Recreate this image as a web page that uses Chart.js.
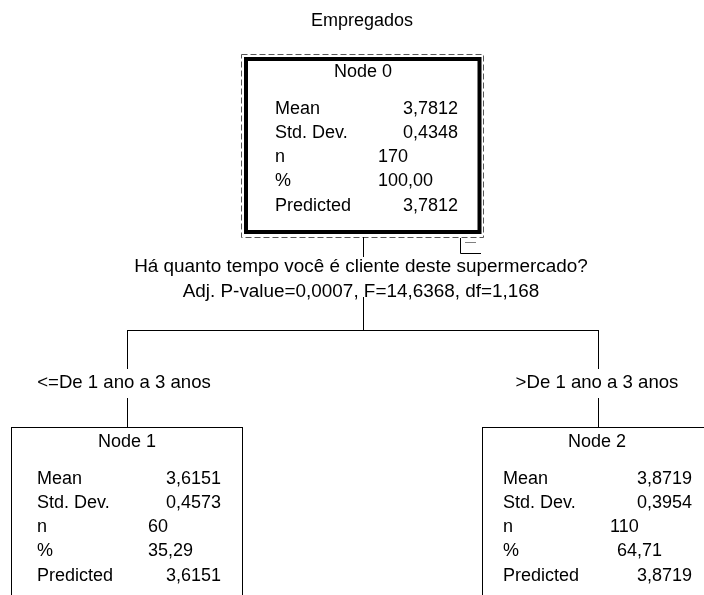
<!DOCTYPE html>
<html>
<head>
<meta charset="utf-8">
<style>
  html, body { margin: 0; padding: 0; background: #ffffff; }
  #wrap { width: 704px; height: 595px; }
  canvas { display: block; }
</style>
<script src="https://cdn.jsdelivr.net/npm/chart.js@4.4.1/dist/chart.umd.min.js"></script>
</head>
<body>
<div id="wrap"><canvas id="c" width="704" height="595"></canvas></div>
<script>
// ---------------- data ----------------
const chartTitle = "Empregados";
const nodeNames = ["Node 0", "Node 1", "Node 2"];
const rowLabels = ["Mean", "Std. Dev.", "n", "%", "Predicted"];
const means = [3.7812, 3.6151, 3.8719];
const stdDevs = [0.4348, 0.4573, 0.3954];
const counts = [170, 60, 110];
const percents = [100.00, 35.29, 64.71];
const predicted = [3.7812, 3.6151, 3.8719];
const splitQuestion = "Há quanto tempo você é cliente deste supermercado?";
const splitPValue = 0.0007;
const splitF = 14.6368;
const splitDf = [1, 168];
const branchLabels = ["<=De 1 ano a 3 anos", ">De 1 ano a 3 anos"];

// ---------------- layout (positions / styles) ----------------
const FAMILY = '"Liberation Sans", Arial, sans-serif';
const FONT = '18px ' + FAMILY;
const FONT_Q = '18.9px ' + FAMILY;
const FONT_B = '18.6px ' + FAMILY;
const layout = {
  title: { x: 362, y: 21 },
  nodes: [
    { box: [246, 59, 479.5, 232], lw: 4, cx: 363, top: 57,
      labelX: 275, valRight: 458, nLeft: 378, pLeft: 378 },
    { box: [11.5, 427.5, 242.5, 640], lw: 1, cx: 127, top: 427,
      labelX: 37, valRight: 221, nLeft: 148, pLeft: 148 },
    { box: [482.5, 427.5, 730, 640], lw: 1, cx: 597, top: 427,
      labelX: 503, valRight: 692, nLeft: 610, pLeft: 617 }
  ],
  rowOffsets: [15, 52, 76, 100.5, 124.5, 149.5],
  dashed: [241.5, 54.5, 483.5, 237.5],
  question: { x: 361, y1: 267, y2: 292 },
  trunkX: 363.5,
  trunk: [[237, 257], [297, 330]],
  hbarY: 330.5,
  branchX: [127.5, 598.5],
  branchLabelX: [124, 597],
  branchLabelY: 383,
  branchSeg: [[330, 369], [398, 427]]
};

function fmt(v, d) { return v.toFixed(d).replace('.', ','); }

const treePlugin = {
  id: 'tree',
  afterDraw(chart) {
    const ctx = chart.ctx;
    const X = v => chart.scales.x.getPixelForValue(v);
    const Y = v => chart.scales.y.getPixelForValue(v);
    ctx.save();
    ctx.fillStyle = '#000';
    ctx.font = FONT;
    ctx.textBaseline = 'middle';

    // title
    ctx.textAlign = 'center';
    ctx.fillText(chartTitle, X(layout.title.x), Y(layout.title.y));

    // dashed selection box around root
    const d = layout.dashed;
    ctx.strokeStyle = '#555';
    ctx.lineWidth = 1;
    ctx.setLineDash([6, 3]);
    ctx.strokeRect(X(d[0]), Y(d[1]), X(d[2]) - X(d[0]), Y(d[3]) - Y(d[1]));
    ctx.setLineDash([]);

    // node boxes and text
    layout.nodes.forEach((nd, i) => {
      ctx.strokeStyle = '#000';
      ctx.lineWidth = nd.lw;
      const b = nd.box;
      ctx.strokeRect(X(b[0]), Y(b[1]), X(b[2]) - X(b[0]), Y(b[3]) - Y(b[1]));
      const o = layout.rowOffsets;
      ctx.textAlign = 'center';
      ctx.fillText(nodeNames[i], X(nd.cx), Y(nd.top + o[0]));
      ctx.textAlign = 'left';
      rowLabels.forEach((lab, r) => ctx.fillText(lab, X(nd.labelX), Y(nd.top + o[r + 1])));
      ctx.textAlign = 'right';
      ctx.fillText(fmt(means[i], 4), X(nd.valRight), Y(nd.top + o[1]));
      ctx.fillText(fmt(stdDevs[i], 4), X(nd.valRight), Y(nd.top + o[2]));
      ctx.fillText(fmt(predicted[i], 4), X(nd.valRight), Y(nd.top + o[5]));
      ctx.textAlign = 'left';
      ctx.fillText(String(counts[i]), X(nd.nLeft), Y(nd.top + o[3]));
      ctx.fillText(fmt(percents[i], 2), X(nd.pLeft), Y(nd.top + o[4]));
    });

    // collapse icon
    ctx.strokeStyle = '#000';
    ctx.lineWidth = 1;
    ctx.beginPath();
    ctx.moveTo(X(460.5), Y(238));
    ctx.lineTo(X(460.5), Y(253.5));
    ctx.lineTo(X(481), Y(253.5));
    ctx.stroke();
    ctx.strokeStyle = '#808080';
    ctx.beginPath();
    ctx.moveTo(X(465), Y(242.5));
    ctx.lineTo(X(476), Y(242.5));
    ctx.stroke();

    // split text
    ctx.fillStyle = '#000';
    ctx.font = FONT_Q;
    ctx.textAlign = 'center';
    ctx.fillText(splitQuestion, X(layout.question.x), Y(layout.question.y1));
    const stat = 'Adj. P-value=' + fmt(splitPValue, 4) + ', F=' + fmt(splitF, 4) +
                 ', df=' + splitDf[0] + ',' + splitDf[1];
    ctx.fillText(stat, X(layout.question.x), Y(layout.question.y2));

    // connectors
    ctx.strokeStyle = '#000';
    ctx.lineWidth = 1;
    ctx.beginPath();
    layout.trunk.forEach(s => { ctx.moveTo(X(layout.trunkX), Y(s[0])); ctx.lineTo(X(layout.trunkX), Y(s[1])); });
    ctx.moveTo(X(layout.branchX[0]), Y(layout.hbarY));
    ctx.lineTo(X(layout.branchX[1]), Y(layout.hbarY));
    layout.branchX.forEach(bx => {
      layout.branchSeg.forEach(s => { ctx.moveTo(X(bx), Y(s[0])); ctx.lineTo(X(bx), Y(s[1])); });
    });
    ctx.stroke();

    // branch labels
    ctx.font = FONT_B;
    branchLabels.forEach((lab, k) => {
      ctx.fillText(lab, X(layout.branchLabelX[k]), Y(layout.branchLabelY));
    });
    ctx.restore();
  }
};

new Chart(document.getElementById('c'), {
  type: 'scatter',
  data: { datasets: [{ data: [], pointRadius: 0 }] },
  options: {
    responsive: false,
    animation: false,
    devicePixelRatio: 1,
    layout: { padding: 0 },
    plugins: { legend: { display: false }, tooltip: { enabled: false } },
    scales: {
      x: { type: 'linear', min: 0, max: 704, display: false },
      y: { type: 'linear', min: 0, max: 595, reverse: true, display: false }
    }
  },
  plugins: [treePlugin]
});
</script>
</body>
</html>
